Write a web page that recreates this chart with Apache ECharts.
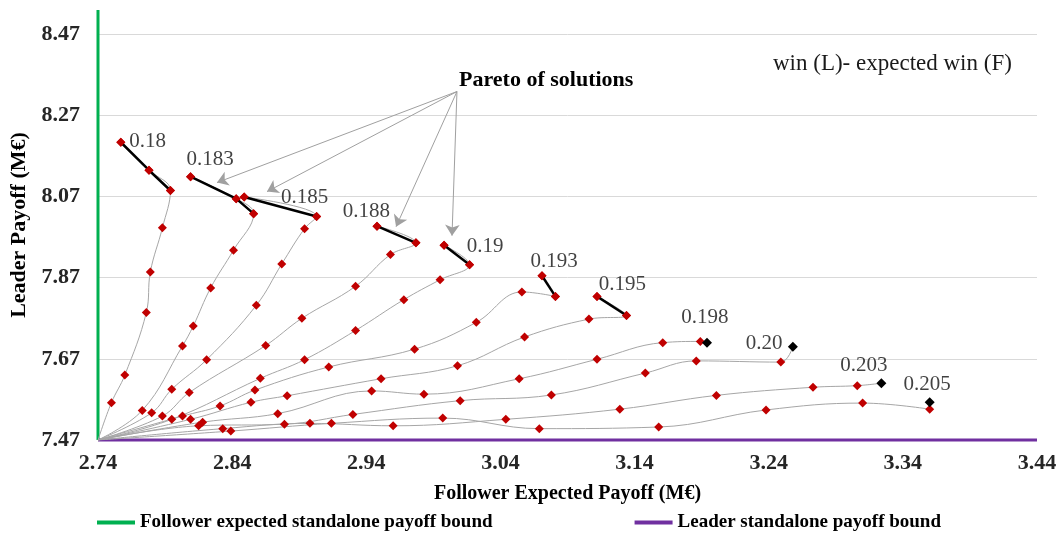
<!DOCTYPE html>
<html>
<head>
<meta charset="utf-8">
<script src="https://cdn.jsdelivr.net/npm/echarts@6/dist/echarts.min.js"></script>
<style>
  html, body { margin: 0; padding: 0; background: #fff; }
  #chart { width: 1063px; height: 538px; }
</style>
</head>
<body>
<div id="chart"></div>
<script>
// axes start at the standalone bounds
const xStart = 2.74
const yStart = 7.47
const xTicks = ['2.74', '2.84', '2.94', '3.04', '3.14', '3.24', '3.34', '3.44']
const yTicks = ['7.47', '7.67', '7.87', '8.07', '8.27', '8.47']

// win (L) - expected win (F), one curve per value (each starts at the origin)
const curveNames = ['0.18', '0.183', '0.185', '0.188', '0.19', '0.193', '0.195', '0.198', '0.20', '0.203', '0.205']
const c018 = [[2.750, 7.562], [2.760, 7.630], [2.776, 7.784], [2.779, 7.884], [2.788, 7.993], [2.794, 8.085], [2.778, 8.135], [2.757, 8.204]]
const c0183 = [[2.773, 7.543], [2.803, 7.702], [2.811, 7.751], [2.824, 7.845], [2.841, 7.938], [2.856, 8.028], [2.843, 8.065], [2.809, 8.119]]
const c0185 = [[2.780, 7.537], [2.795, 7.595], [2.821, 7.668], [2.858, 7.802], [2.877, 7.904], [2.894, 7.991], [2.903, 8.021], [2.849, 8.069]]
const c0188 = [[2.788, 7.529], [2.808, 7.587], [2.865, 7.703], [2.892, 7.770], [2.932, 7.849], [2.958, 7.927], [2.977, 7.956], [2.948, 7.997]]
const c019 = [[2.795, 7.521], [2.861, 7.622], [2.894, 7.668], [2.932, 7.740], [2.968, 7.816], [2.995, 7.865], [3.017, 7.902], [2.998, 7.950]]
const c0193 = [[2.803, 7.529], [2.831, 7.554], [2.857, 7.593], [2.912, 7.650], [2.976, 7.694], [3.022, 7.760], [3.056, 7.835], [3.081, 7.824], [3.071, 7.875]]
const c0195 = [[2.809, 7.521], [2.854, 7.563], [2.881, 7.579], [2.951, 7.621], [3.008, 7.653], [3.058, 7.724], [3.106, 7.768], [3.134, 7.777], [3.112, 7.824]]
const c0198 = [[2.818, 7.514], [2.874, 7.535], [2.944, 7.591], [2.983, 7.583], [3.054, 7.621], [3.112, 7.669], [3.161, 7.710], [3.189, 7.713], [3.194, 7.710]]
const c020 = [[2.815, 7.505], [2.879, 7.509], [2.930, 7.533], [3.010, 7.567], [3.078, 7.581], [3.148, 7.635], [3.186, 7.665], [3.249, 7.662], [3.258, 7.700]]
const c0203 = [[2.833, 7.498], [2.898, 7.511], [2.960, 7.505], [3.044, 7.521], [3.129, 7.546], [3.201, 7.580], [3.273, 7.600], [3.306, 7.604], [3.324, 7.610]]
const c0205 = [[2.839, 7.492], [2.914, 7.511], [2.997, 7.524], [3.069, 7.498], [3.158, 7.502], [3.238, 7.544], [3.310, 7.561], [3.360, 7.546], [3.360, 7.563]]
const curves = [c018, c0183, c0185, c0188, c019, c0193, c0195, c0198, c020, c0203, c0205]
// how many of the last points of each curve form its pareto front
const paretoCounts = [3, 3, 2, 2, 2, 2, 2, 1, 1, 1, 1]

// annotation anchors (data units)
const curveLabelAt = [[2.777, 8.207], [2.8235, 8.161], [2.894, 8.068], [2.940, 8.033], [3.0285, 7.947], [3.080, 7.910], [3.131, 7.853], [3.1925, 7.771], [3.2365, 7.707], [3.311, 7.653], [3.358, 7.606]]
const arrowFrom = [3.0076, 8.329]
const arrowTips = [[2.8287, 8.1046], [2.866, 8.0823], [2.9622, 7.9959], [3.0039, 7.9737]]

const yTop = 8.53

const shift = (p) => [p[0] - xStart, p[1] - yStart]
const serif = 'Liberation Serif'

const chart = echarts.init(document.getElementById('chart'))
const series = []

curves.forEach((pts, i) => {
  const n = pts.length
  const k = paretoCounts[i]
  const data = [{ value: [0, 0], symbol: 'none' }]
  pts.forEach((p, j) => {
    const item = { value: shift(p) }
    if (k === 1 && j === n - 1) {
      item.itemStyle = { color: '#000' }
      item.symbolSize = 10
    }
    data.push(item)
  })
  series.push({
    type: 'line',
    name: 'curve ' + curveNames[i],
    data: data,
    smooth: 0.4,
    symbol: 'diamond',
    symbolSize: 9,
    showAllSymbol: true,
    itemStyle: { color: '#c00000' },
    lineStyle: { color: '#a6a6a6', width: 1 },
    z: 3,
    silent: true,
  })
  if (k > 1) {
    series.push({
      type: 'line',
      name: 'pareto ' + curveNames[i],
      data: pts.slice(n - k).map(shift),
      symbol: 'diamond',
      symbolSize: 9,
      itemStyle: { color: '#c00000' },
      lineStyle: { color: '#000', width: 2.5 },
      z: 4,
      silent: true,
    })
  }
})

series.push({
  type: 'line',
  name: 'Follower expected standalone payoff bound',
  data: [[0, 0], [0, yTop - yStart]],
  symbol: 'none',
  clip: false,
  itemStyle: { color: '#00b050' },
  lineStyle: { color: '#00b050', width: 3 },
  z: 2,
})
series.push({
  type: 'line',
  name: 'Leader standalone payoff bound',
  data: [[0, 0], [3.44 - xStart, 0]],
  symbol: 'none',
  clip: false,
  itemStyle: { color: '#7030a0' },
  lineStyle: { color: '#7030a0', width: 3 },
  z: 2,
})

// curve value labels + pareto arrows
series.push({
  type: 'scatter',
  name: 'labels',
  symbolSize: 0,
  silent: true,
  z: 5,
  data: curveLabelAt.map((p, i) => ({ name: curveNames[i], value: shift(p) })),
  label: {
    show: true,
    position: 'inside',
    formatter: '{b}',
    fontFamily: serif,
    fontSize: 21,
    color: '#111',
  },
  markLine: {
    silent: true,
    symbol: ['none', 'arrow'],
    symbolSize: 11,
    label: { show: false },
    lineStyle: { color: '#a0a0a0', width: 1, type: 'solid' },
    data: arrowTips.map((t) => [{ coord: shift(arrowFrom) }, { coord: shift(t) }]),
  },
})

const option = {
  animation: false,
  backgroundColor: '#fff',
  grid: { left: 98, right: 26, top: 10, bottom: 98 },
  legend: {
    data: ['Follower expected standalone payoff bound', 'Leader standalone payoff bound'],
    left: 92,
    bottom: 1,
    icon: 'rect',
    itemWidth: 38,
    itemHeight: 4,
    itemGap: 142,
    textStyle: { fontFamily: serif, fontWeight: 'bold', fontSize: 19, color: '#000' },
  },
  graphic: [
    { type: 'text', left: 459, top: 69, style: { text: 'Pareto of solutions', font: 'bold 22px "Liberation Serif"', fill: '#000' } },
    { type: 'text', left: 773, top: 52, style: { text: 'win (L)- expected win (F)', font: '23px "Liberation Serif"', fill: '#1a1a1a' } },
  ],
  xAxis: {
    type: 'value',
    min: 0,
    max: 3.44 - xStart,
    interval: 0.1,
    name: 'Follower Expected Payoff (M€)',
    nameLocation: 'middle',
    nameGap: 44,
    nameTextStyle: { fontFamily: serif, fontWeight: 'bold', fontSize: 20, color: '#000' },
    axisLine: { show: false },
    axisTick: { show: false },
    splitLine: { show: false },
    axisLabel: {
      margin: 12,
      fontFamily: serif,
      fontWeight: 'bold',
      fontSize: 22,
      color: '#262626',
      formatter: (v) => xTicks[Math.round(v / 0.1)] || '',
    },
  },
  yAxis: {
    type: 'value',
    min: 0,
    max: yTop - yStart,
    interval: 0.2,
    name: 'Leader Payoff (M€)',
    nameLocation: 'middle',
    nameGap: 68,
    nameTextStyle: { fontFamily: serif, fontWeight: 'bold', fontSize: 22, color: '#000' },
    axisLine: { show: false },
    axisTick: { show: false },
    splitLine: { show: true, showMinLine: false, showMaxLine: false, lineStyle: { color: '#d9d9d9', width: 1 } },
    axisLabel: {
      margin: 18,
      showMaxLabel: false,
      fontFamily: serif,
      fontWeight: 'bold',
      fontSize: 22,
      color: '#262626',
      formatter: (v) => {
        const i = Math.round(v / 0.2)
        return Math.abs(v - i * 0.2) < 1e-6 ? (yTicks[i] || '') : ''
      },
    },
  },
  series: series,
}
chart.setOption(option)
</script>
</body>
</html>
